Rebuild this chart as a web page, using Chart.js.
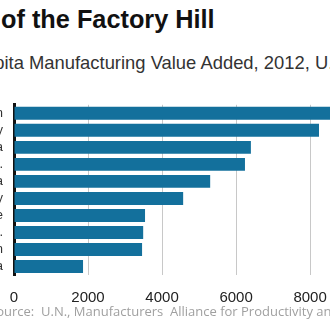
<!DOCTYPE html>
<html>
<head>
<meta charset="utf-8">
<script src="https://cdn.jsdelivr.net/npm/chart.js@4.4.1/dist/chart.umd.min.js"></script>
<style>
    html, body { margin: 0; padding: 0; background: #fff; }
    body { width: 330px; height: 330px; overflow: hidden; position: relative; font-family: "Liberation Sans", Arial, sans-serif; }
    .line { position: absolute; white-space: nowrap; }
    .before { position: absolute; right: 100%; top: 0; white-space: pre; }
    #title { left: 1px; top: 6px; font-size: 25.3px; line-height: 26px; font-weight: bold; color: #111; }
    #subtitle { left: 29px; top: 54px; font-size: 18.4px; line-height: 18px; color: #333; }
    #source { left: 41px; top: 305px; font-family: "Open Sans", sans-serif; font-size: 13px; line-height: 13px; color: #a0a0a0; white-space: pre; }
    #wrap { position: absolute; left: -86px; top: 86px; width: 505px; height: 221px; }
</style>
</head>
<body>
<div id="title" class="line"><span class="before">King </span>of the Factory Hill</div>
<div id="subtitle" class="line"><span class="before">Per Capita </span>Manufacturing Value Added, 2012, U.S. Dollars</div>
<div id="wrap"><canvas id="chart"></canvas></div>
<div id="source" class="line"><span class="before">Source:  </span>U.N., Manufacturers  Alliance for Productivity and Innovation</div>

<script>
const countries = ['Japan', 'Germany', 'South Korea', 'U.S.', 'Canada', 'Italy', 'France', 'U.K.', 'Spain', 'China'];
const valueAdded = [9000, 8240, 6400, 6240, 5300, 4570, 3540, 3490, 3460, 1865];
const xTicks = [0, 2000, 4000, 6000, 8000, 10000];

const ctx = document.getElementById('chart').getContext('2d');

const chart = new Chart(ctx, {
    type: 'bar',
    data: {
        labels: countries,
        datasets: [{
            label: 'Per capita manufacturing value added',
            data: valueAdded,
            backgroundColor: '#13709c',
            borderWidth: 0,
            categoryPercentage: 1,
            barPercentage: 0.76
        }]
    },
    options: {
        indexAxis: 'y',
        responsive: true,
        maintainAspectRatio: false,
        animation: false,
        layout: {
            padding: { top: 6, right: 30, bottom: 0, left: 0 }
        },
        plugins: {
            legend: { display: false },
            tooltip: { enabled: false }
        },
        scales: {
            x: {
                min: 0,
                max: 10000,
                afterBuildTicks: (scale) => {
                    scale.ticks = xTicks.map(v => ({ value: v }));
                },
                afterFit: (scale) => { scale.height = 32; },
                grid: {
                    color: (c) => c.index === 0 ? 'rgba(0,0,0,0)' : '#c8c8c8',
                    lineWidth: 1,
                    drawTicks: false
                },
                border: { display: false },
                ticks: {
                    padding: 14,
                    color: '#222',
                    font: { family: 'Liberation Sans', size: 15 },
                    maxRotation: 0,
                    callback: (v) => String(v)
                }
            },
            y: {
                afterFit: (scale) => { scale.width = 100; },
                grid: { display: false, drawTicks: false },
                border: { display: true, color: '#111', width: 3 },
                ticks: {
                    autoSkip: false,
                    padding: 11,
                    color: '#333',
                    font: { family: 'Liberation Sans', size: 13 }
                }
            }
        }
    }
});
</script>
</body>
</html>
